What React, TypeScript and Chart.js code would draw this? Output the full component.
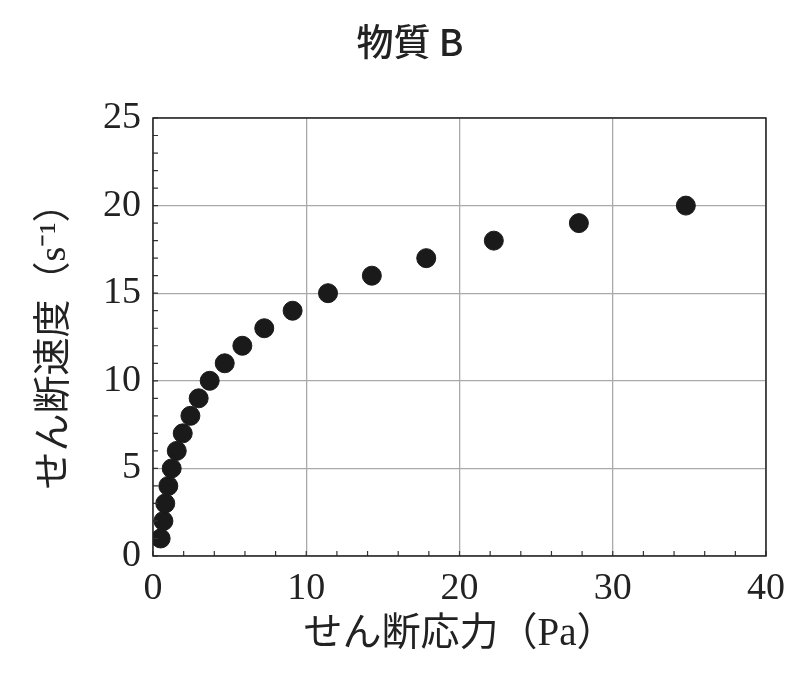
import { Chart, registerables } from 'chart.js'
import { useEffect, useRef } from 'react'

Chart.register(...registerables)

// shear rate (s^-1) vs shear stress (Pa)
const shearRate = [1, 2, 3, 4, 5, 6, 7, 8, 9, 10, 11, 12, 13, 14, 15, 16, 17, 18, 19, 20]
const shearStress = [
  0.5, 0.68, 0.8, 1.0, 1.22, 1.55, 1.94, 2.44, 2.98, 3.7,
  4.68, 5.83, 7.26, 9.11, 11.42, 14.28, 17.83, 22.24, 27.79, 34.77
]
const xMajorTicks = [0, 10, 20, 30, 40]
const yMajorTicks = [0, 5, 10, 15, 20, 25]
const xMinorStep = 2
const yMinorStep = 1

const serif = '"Liberation Serif", "Noto Sans CJK JP", serif'

// small inward ticks on the bottom and left edges, plus the frame
const minorTicks = {
  id: 'minorTicks',
  afterDraw(chart: Chart) {
    const { ctx, chartArea } = chart
    const xs = chart.scales.x
    const ys = chart.scales.y
    ctx.save()
    ctx.strokeStyle = '#333'
    ctx.lineWidth = 1.2
    ctx.beginPath()
    for (let v = xs.min; v <= xs.max; v += xMinorStep) {
      const px = xs.getPixelForValue(v)
      ctx.moveTo(px, chartArea.bottom)
      ctx.lineTo(px, chartArea.bottom - 5)
    }
    for (let v = ys.min; v <= ys.max; v += yMinorStep) {
      const py = ys.getPixelForValue(v)
      ctx.moveTo(chartArea.left, py)
      ctx.lineTo(chartArea.left + 5, py)
    }
    ctx.stroke()
    ctx.strokeStyle = '#222'
    ctx.lineWidth = 1.5
    ctx.strokeRect(chartArea.left, chartArea.top, chartArea.right - chartArea.left, chartArea.bottom - chartArea.top)
    ctx.restore()
  }
}

export default function App() {
  const canvasRef = useRef<HTMLCanvasElement>(null)

  useEffect(() => {
    document.body.style.margin = '0'
    if (!canvasRef.current) return () => {}
    const chart = new Chart(canvasRef.current, {
      type: 'scatter',
      data: {
        datasets: [
          {
            data: shearStress.map((x, i) => ({ x, y: shearRate[i] })),
            backgroundColor: '#1a1a1a',
            borderColor: '#1a1a1a',
            pointRadius: 9.5,
            pointHoverRadius: 9.5
          }
        ]
      },
      options: {
        animation: false,
        responsive: false,
        maintainAspectRatio: false,
        layout: { padding: { left: 54, right: 41, top: 0, bottom: 0 } },
        plugins: {
          legend: { display: false },
          tooltip: { enabled: false },
          title: {
            display: true,
            text: '物質 B',
            color: '#222',
            font: { family: '"Noto Sans CJK JP", sans-serif', size: 37, weight: 500 },
            padding: { top: 20, bottom: 53.6 }
          }
        },
        scales: {
          x: {
            type: 'linear',
            min: 0,
            max: 40,
            afterBuildTicks: scale => {
              scale.ticks = xMajorTicks.map(value => ({ value }))
            },
            afterFit: scale => {
              scale.height = 119
            },
            grid: { color: '#aaa', lineWidth: 1.3, drawTicks: false },
            border: { display: false },
            ticks: {
              color: '#222',
              padding: 10,
              font: { family: serif, size: 38 }
            },
            title: {
              display: true,
              text: 'せん断応力（Pa）',
              color: '#222',
              font: { family: serif, size: 39 },
              padding: { top: 0, bottom: 16.6 }
            }
          },
          y: {
            type: 'linear',
            min: 0,
            max: 25,
            afterBuildTicks: scale => {
              scale.ticks = yMajorTicks.map(value => ({ value }))
            },
            afterFit: scale => {
              scale.width = 99
            },
            grid: { color: '#aaa', lineWidth: 1.3, drawTicks: false },
            border: { display: false },
            ticks: {
              color: '#222',
              padding: 12,
              font: { family: serif, size: 38 }
            },
            title: {
              display: true,
              text: 'せん断速度（s⁻¹）',
              color: '#222',
              font: { family: serif, size: 38 },
              padding: { top: -21.8, bottom: 0 }
            }
          }
        }
      },
      plugins: [minorTicks]
    })
    return () => {
      chart.destroy()
    }
  }, [])

  return (
    <div style={{ width: 807, height: 675 }}>
      <canvas ref={canvasRef} width={807} height={675} style={{ width: 807, height: 675 }} />
    </div>
  )
}
